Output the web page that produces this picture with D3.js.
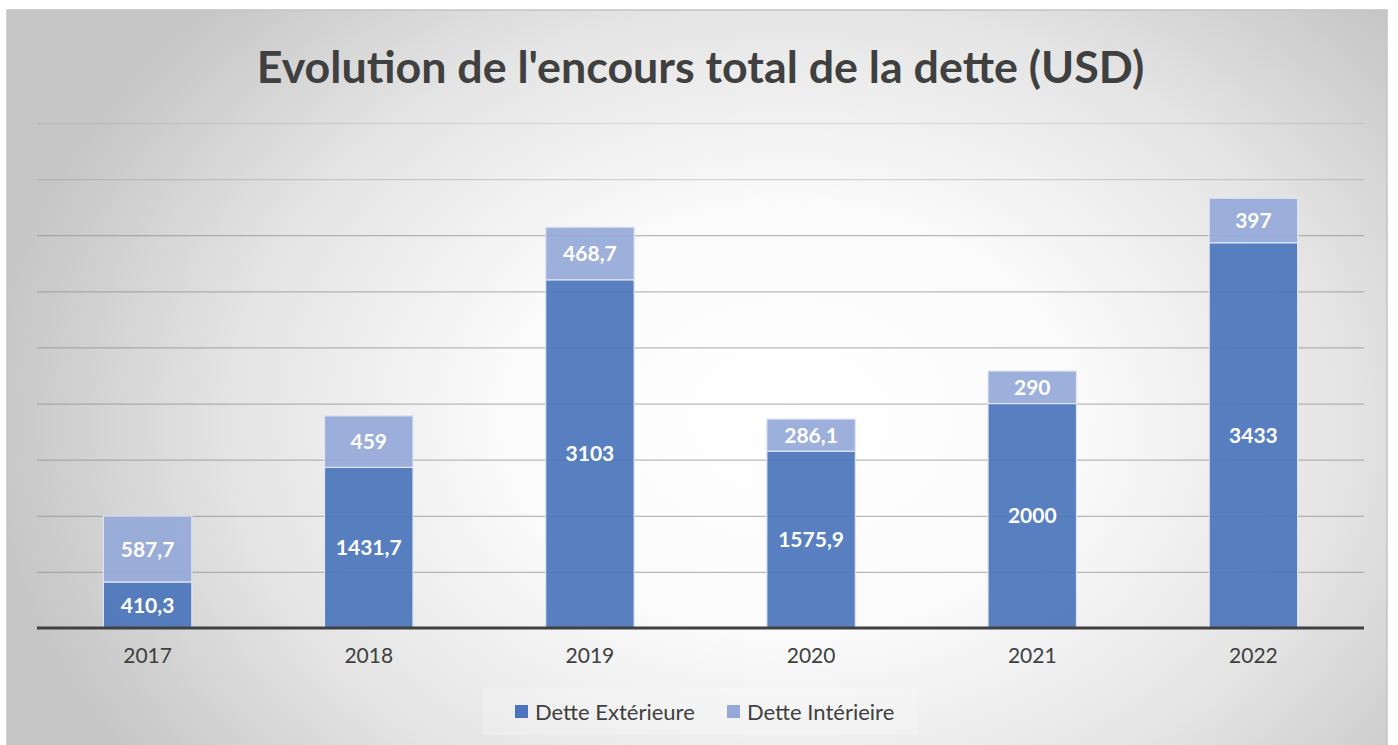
<!DOCTYPE html>
<html>
<head>
<meta charset="utf-8">
<script src="https://cdn.jsdelivr.net/npm/d3@7"></script>
<style>
  html, body { margin: 0; padding: 0; background: #fff; }
  svg { display: block; font-family: Lato, "Open Sans", sans-serif; }
</style>
</head>
<body>
<div class="chart"></div>
<script>
// data
const years = ['2017', '2018', '2019', '2020', '2021', '2022'];
const dette_ext = [410.3, 1431.7, 3103, 1575.9, 2000, 3433];
const dette_int = [587.7, 459, 468.7, 286.1, 290, 397];
const series_names = ['Dette Extérieure', 'Dette Intérieire'];
const y_ticks = [0, 500, 1000, 1500, 2000, 2500, 3000, 3500, 4000, 4500];

const fmt = v => String(v).replace('.', ',');

const svg_width = 1398;
const svg_height = 745;
const margin = {top: 123, right: 34, bottom: 117, left: 37};
const chart_width = svg_width - margin.left - margin.right;
const chart_height = svg_height - margin.top - margin.bottom;

const svg = d3.select('.chart').append('svg')
    .attr('width', svg_width)
    .attr('height', svg_height);

// background gradient
const defs = svg.append('defs');
const grad = defs.append('radialGradient')
    .attr('id', 'bg')
    .attr('gradientUnits', 'userSpaceOnUse')
    .attr('cx', 790).attr('cy', 420)
    .attr('r', 800)
    .attr('gradientTransform', 'translate(790,420) scale(1,0.75) translate(-790,-420)');
grad.append('stop').attr('offset', '0%').attr('stop-color', '#ffffff');
grad.append('stop').attr('offset', '35%').attr('stop-color', '#fbfbfb');
grad.append('stop').attr('offset', '70%').attr('stop-color', '#e4e4e4');
grad.append('stop').attr('offset', '100%').attr('stop-color', '#c6c6c6');

svg.append('rect')
    .attr('x', 7).attr('y', 10)
    .attr('width', 1380).attr('height', 740)
    .attr('fill', 'url(#bg)')
    .attr('stroke', '#c4c4c4')
    .attr('stroke-width', 1.5);

const g = svg.append('g')
    .attr('transform', `translate(${margin.left},${margin.top})`);

// scales
const x = d3.scaleBand()
    .domain(years)
    .range([0, chart_width])
    .paddingInner(0.6)
    .paddingOuter(0.3);

const y = d3.scaleLinear()
    .domain([0, 4500])
    .range([chart_height, 0]);

// gridlines
const y_axis = d3.axisLeft(y)
    .tickValues(y_ticks.slice(1))
    .tickSize(-chart_width)
    .tickFormat('');
g.append('g').attr('class', 'grid')
    .call(y_axis)
    .call(s => s.select('.domain').remove())
    .call(s => s.selectAll('line')
        .attr('stroke', '#8c8c8c')
        .attr('stroke-opacity', d => d >= 4500 ? 0.2 : d >= 4000 ? 0.35 : 0.6)
        .attr('stroke-width', 1.3));

// stacked data
const table = years.map((yr, i) => ({year: yr, ext: dette_ext[i], int: dette_int[i]}));
const stack = d3.stack().keys(['ext', 'int'])(table);
const colors = {ext: '#4a74bb', int: '#95a8d8'};

const layers = g.selectAll('.layer')
    .data(stack)
    .join('g')
    .attr('class', 'layer');

layers.selectAll('rect')
    .data(d => d.map(v => Object.assign(v, {key: d.key})))
    .join('rect')
    .attr('x', d => x(d.data.year))
    .attr('y', d => y(d[1]))
    .attr('width', x.bandwidth())
    .attr('height', d => y(d[0]) - y(d[1]))
    .attr('fill', d => colors[d.key])
    .attr('fill-opacity', 0.92)
    .attr('stroke', '#dfe5f2')
    .attr('stroke-width', 1.2);

layers.selectAll('text')
    .data(d => d)
    .join('text')
    .attr('x', d => x(d.data.year) + x.bandwidth() / 2)
    .attr('y', d => (y(d[0]) + y(d[1])) / 2)
    .attr('dy', '0.36em')
    .attr('text-anchor', 'middle')
    .attr('fill', '#ffffff')
    .attr('font-weight', 'bold')
    .attr('font-size', 21)
    .text(d => fmt(d.data[d.key]));

// x axis
const x_axis = d3.axisBottom(x).tickSize(0).tickPadding(20);
const x_axis_draw = g.append('g')
    .attr('transform', `translate(0,${chart_height})`)
    .call(x_axis);
x_axis_draw.select('.domain').remove();
x_axis_draw.selectAll('text')
    .attr('font-size', 21)
    .attr('fill', '#404040')
    .attr('font-family', 'Lato, sans-serif');

g.append('line')
    .attr('x1', 0).attr('x2', chart_width)
    .attr('y1', chart_height).attr('y2', chart_height)
    .attr('stroke', '#404040')
    .attr('stroke-width', 3);

// title
const title = svg.append('text')
    .attr('x', margin.left + chart_width / 2)
    .attr('y', 83)
    .attr('text-anchor', 'middle')
    .attr('fill', '#404040')
    .attr('font-weight', 'bold')
    .attr('font-size', 44)
    .text("Evolution de l'encours total de la dette (USD)");
const t_len = title.node().getComputedTextLength();
title.attr('font-size', 44 * 888 / t_len);

// legend
const legend = svg.append('g').attr('transform', 'translate(483,688)');
legend.append('rect')
    .attr('width', 435).attr('height', 47)
    .attr('fill', '#ffffff').attr('fill-opacity', 0.2);
const leg_x = [32, 244];
series_names.forEach((name, i) => {
    const item = legend.append('g').attr('transform', `translate(${leg_x[i]},17)`);
    item.append('rect')
        .attr('width', 13).attr('height', 13)
        .attr('fill', i === 0 ? colors.ext : colors.int);
    item.append('text')
        .attr('x', 20).attr('y', 7)
        .attr('dy', '0.36em')
        .attr('font-size', 22)
        .attr('fill', '#404040')
        .text(name);
});
</script>
</body>
</html>
